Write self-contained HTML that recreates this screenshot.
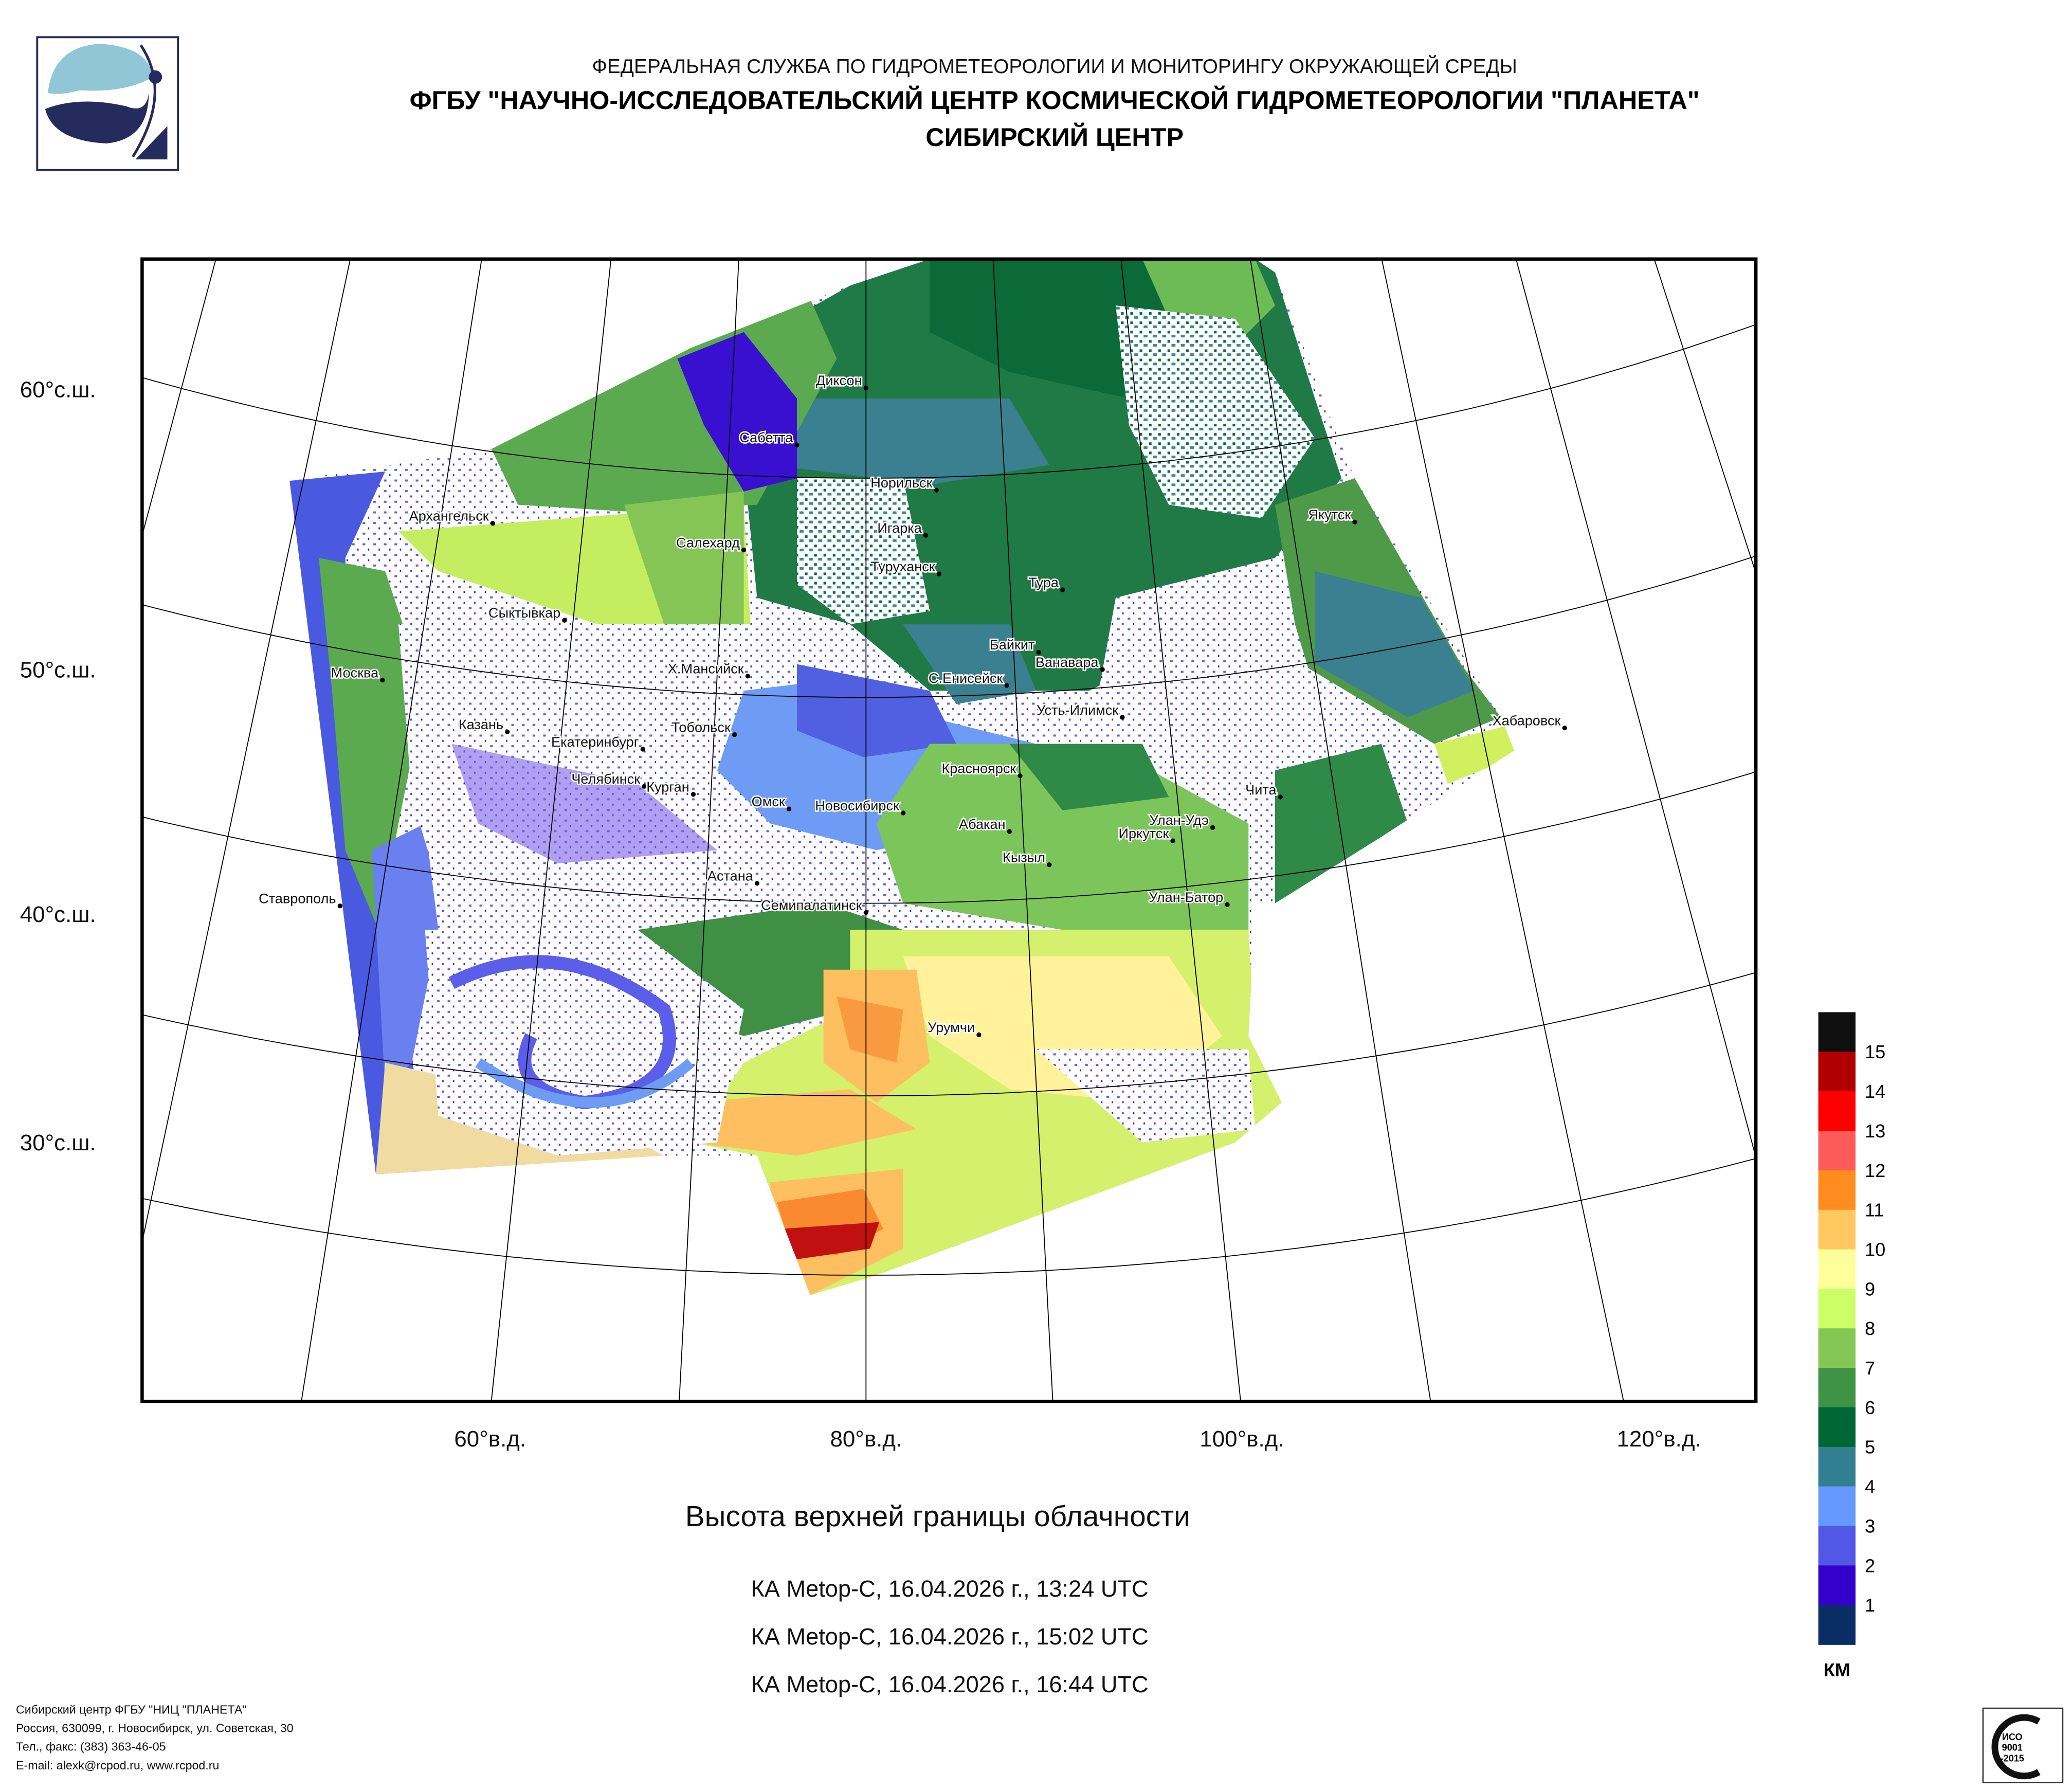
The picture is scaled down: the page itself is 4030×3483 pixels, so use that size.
<!DOCTYPE html>
<html><head><meta charset="utf-8">
<style>
html,body{margin:0;padding:0;background:#fff;width:4030px;height:3483px;overflow:hidden;}
svg{display:block;position:absolute;left:0;top:0;}
text{font-family:"Liberation Sans","DejaVu Sans",sans-serif;}
</style></head>
<body>
<svg id="root" width="4030" height="3483" viewBox="0 0 1560 1348.3" preserveAspectRatio="none" xmlns="http://www.w3.org/2000/svg">
<defs>
  <clipPath id="frameClip"><rect x="107" y="195" width="1215" height="860"/></clipPath>
  <clipPath id="swathClip"><path d="M218,362 L370,338 L520,262 L640,215 L700,195 L945,195 L960,205 L1000,310 L1020,360 L1130,540 L1140,565 L1040,630 L960,680 L945,680 L940,780 L965,830 L930,860 L660,960 L610,975 L570,870 L500,870 L283,884 Z"/></clipPath>
  <pattern id="speckBlue" width="8" height="8" patternUnits="userSpaceOnUse">
    <rect width="8" height="8" fill="#ffffff"/><rect x="1" y="1" width="2" height="1.5" fill="#5a5ee8"/><rect x="5" y="5" width="1" height="1.5" fill="#3a10d0"/>
  </pattern>
  <pattern id="speckGreen" width="7" height="7" patternUnits="userSpaceOnUse">
    <rect width="7" height="7" fill="#ffffff"/><rect x="0" y="0" width="3" height="2" fill="#3a8a8f"/><rect x="4" y="4" width="2" height="2" fill="#0a6a38"/>
  </pattern>
</defs>

<!-- Header -->
<g>
  <rect x="28" y="28" width="106" height="100" fill="#fff" stroke="#262b5e" stroke-width="1.5"/>
  <path d="M36,70 Q40,35 75,33 Q112,35 115,58 Q95,70 60,68 Q45,72 36,70 Z" fill="#90c6d6"/>
  <path d="M34,82 Q60,72 95,80 Q110,86 112,70 Q112,105 80,108 Q40,106 34,82 Z" fill="#262b5e"/>
  <path d="M106,34 Q130,70 100,118" stroke="#262b5e" stroke-width="2" fill="none"/>
  <circle cx="117" cy="58" r="5" fill="#262b5e"/>
  <path d="M126,95 L126,120 L102,120 Z" fill="#262b5e"/>
</g>
<text x="794" y="55" text-anchor="middle" font-size="15" fill="#111">ФЕДЕРАЛЬНАЯ СЛУЖБА ПО ГИДРОМЕТЕОРОЛОГИИ И МОНИТОРИНГУ ОКРУЖАЮЩЕЙ СРЕДЫ</text>
<text x="794" y="82" text-anchor="middle" font-size="19.5" font-weight="bold" fill="#000">ФГБУ "НАУЧНО-ИССЛЕДОВАТЕЛЬСКИЙ ЦЕНТР КОСМИЧЕСКОЙ ГИДРОМЕТЕОРОЛОГИИ "ПЛАНЕТА"</text>
<text x="794" y="110" text-anchor="middle" font-size="19.5" font-weight="bold" fill="#000">СИБИРСКИЙ ЦЕНТР</text>

<!-- Map -->
<g clip-path="url(#frameClip)">
  <rect x="107" y="195" width="1215" height="860" fill="#fff"/>
  <g clip-path="url(#swathClip)">
    <rect x="200" y="190" width="960" height="800" fill="url(#speckBlue)"/>
    <path d="M560,260 L640,215 L700,195 L945,195 L960,205 L990,300 L1010,360 L960,420 L900,480 L820,520 L700,520 L640,470 L570,450 L560,350 Z" fill="#1f7a45"/>
    <path d="M700,195 L860,195 L900,260 L850,300 L760,280 L700,250 Z" fill="#0b6a38"/>
    <path d="M860,195 L945,195 L960,230 L930,260 L880,240 Z" fill="#6cbb55"/>
    <path d="M570,300 L760,300 L790,350 L700,365 L580,350 Z" fill="#3a8090"/>
    <path d="M600,360 L680,360 L700,460 L640,470 L600,440 Z" fill="url(#speckGreen)"/>
    <path d="M840,230 L930,240 L990,330 L950,390 L880,380 L850,320 Z" fill="url(#speckGreen)"/>
    <path d="M960,380 L1020,360 L1100,500 L1130,540 L1080,560 L980,500 Z" fill="#4e9a48"/>
    <path d="M990,430 L1070,450 L1110,520 L1060,540 L990,500 Z" fill="#3a8090"/>
    <path d="M840,450 L960,420 L990,520 L1050,560 L960,640 L880,650 L820,560 Z" fill="url(#speckBlue)"/>
    <path d="M960,580 L1040,560 L1060,620 L960,680 Z" fill="#2f8a48"/>
    <path d="M1080,560 L1140,545 L1140,570 L1090,590 Z" fill="#d0f060"/>
    <path d="M370,338 L520,262 L610,225 L630,270 L570,380 L470,385 L390,380 Z" fill="#5caa50"/>
    <path d="M510,270 L560,250 L600,300 L600,360 L560,370 L530,320 Z" fill="#3a10d0"/>
    <path d="M300,400 L560,380 L565,470 L450,470 L330,430 Z" fill="#c4ee60"/>
    <path d="M470,380 L560,370 L560,470 L500,470 Z" fill="#85c555"/>
    <path d="M218,362 L290,355 L260,420 L265,600 L300,700 L320,884 L283,884 Z" fill="#4a5ae0"/>
    <path d="M240,420 L290,430 L320,520 L300,620 L285,700 L260,640 L250,520 Z" fill="#5caa50"/>
    <path d="M280,640 L320,620 L330,700 L310,800 L290,820 Z" fill="#6a80f0"/>
    <path d="M290,800 L420,830 L500,870 L283,884 Z" fill="#f0dca0"/>
    <path d="M300,470 L500,470 L560,560 L500,700 L340,700 L310,600 Z" fill="url(#speckBlue)"/>
    <path d="M340,560 L480,590 L540,640 L420,650 L360,620 Z" fill="#7a60e8" opacity="0.6"/>
    <path d="M560,520 L640,510 L700,540 L780,560 L760,620 L660,640 L580,620 L540,580 Z" fill="#6e9cf5"/>
    <path d="M600,500 L700,520 L720,560 L650,570 L600,550 Z" fill="#5060e0"/>
    <path d="M680,470 L760,470 L780,520 L720,530 Z" fill="#3a8090"/>
    <path d="M700,560 L830,560 L940,620 L940,700 L800,700 L680,680 L660,620 Z" fill="#7cc55a"/>
    <path d="M760,560 L860,560 L880,600 L800,610 Z" fill="#2f8a48"/>
    <path d="M480,700 L620,680 L680,700 L640,760 L560,780 L500,760 Z" fill="#3f8f45"/>
    <path d="M640,700 L940,700 L945,780 L965,830 L930,860 L660,960 L610,975 L570,870 L520,860 L560,800 L640,760 Z" fill="#d4f06c"/>
    <path d="M680,720 L880,720 L920,780 L860,830 L760,820 L700,780 Z" fill="#fff29a"/>
    <path d="M620,730 L690,730 L700,800 L660,830 L620,800 Z" fill="#fdbf5f"/>
    <path d="M630,750 L680,760 L675,800 L640,790 Z" fill="#fa9a40"/>
    <path d="M520,830 L640,820 L690,850 L600,870 L520,860 Z" fill="#fdbf5f"/>
    <path d="M580,890 L680,880 L680,940 L610,975 L580,930 Z" fill="#fdbf5f"/>
    <path d="M585,905 L650,895 L665,925 L630,945 L595,940 Z" fill="#fa8a30"/>
    <path d="M590,925 L662,920 L655,940 L600,948 Z" fill="#c01010"/>
    <path d="M780,790 L940,790 L945,850 L860,860 Z" fill="url(#speckBlue)"/>
    <path d="M320,700 L480,700 L560,760 L540,860 L420,870 L330,840 Z" fill="url(#speckBlue)"/>
    <path d="M340,740 Q420,700 500,760 Q520,820 440,830 Q380,820 400,780" stroke="#5a5ee8" stroke-width="10" fill="none"/>
    <path d="M360,800 Q450,860 520,800" stroke="#6e9cf5" stroke-width="8" fill="none"/>
  </g>
  <g id="graticule" stroke="#000" stroke-width="0.7" fill="none"></g>
  <g id="cities"></g>
</g>
<rect x="107" y="195" width="1215" height="860" fill="none" stroke="#000" stroke-width="2.5"/>

<g font-size="17" fill="#111">
  <text x="15" y="299">60°с.ш.</text>
  <text x="15" y="510">50°с.ш.</text>
  <text x="15" y="694">40°с.ш.</text>
  <text x="15" y="866">30°с.ш.</text>
</g>
<g font-size="17" fill="#111" text-anchor="middle">
  <text x="369" y="1089">60°в.д.</text>
  <text x="652" y="1089">80°в.д.</text>
  <text x="935" y="1089">100°в.д.</text>
  <text x="1249" y="1089">120°в.д.</text>
</g>

<g id="legend"></g>
<text x="1383" y="1262" text-anchor="middle" font-size="14" font-weight="bold" fill="#000">КМ</text>

<text x="706" y="1149" text-anchor="middle" font-size="22" fill="#111">Высота верхней границы облачности</text>
<g font-size="17.5" fill="#111" text-anchor="middle">
  <text x="715" y="1202">КА Metop-C, 16.04.2026 г., 13:24 UTC</text>
  <text x="715" y="1238">КА Metop-C, 16.04.2026 г., 15:02 UTC</text>
  <text x="715" y="1274">КА Metop-C, 16.04.2026 г., 16:44 UTC</text>
</g>
<g font-size="9" fill="#111">
  <text x="12" y="1290">Сибирский центр ФГБУ "НИЦ "ПЛАНЕТА"</text>
  <text x="12" y="1304">Россия, 630099, г. Новосибирск, ул. Советская, 30</text>
  <text x="12" y="1318">Тел., факс: (383) 363-46-05</text>
  <text x="12" y="1332">E-mail: alexk@rcpod.ru, www.rcpod.ru</text>
</g>
<g>
  <rect x="1493" y="1286" width="60" height="56" fill="#fff" stroke="#333" stroke-width="1"/>
  <path d="M1535,1296 A22,22 0 1 0 1535,1334" stroke="#111" stroke-width="5" fill="none"/>
  <text x="1515" y="1310" font-size="7" font-weight="bold" text-anchor="middle">ИСО</text>
  <text x="1515" y="1318" font-size="7" font-weight="bold" text-anchor="middle">9001</text>
  <text x="1515" y="1326" font-size="7" font-weight="bold" text-anchor="middle">-2015</text>
</g>

<script>
const legendLabels = ["15","14","13","12","11","10","9","8","7","6","5","4","3","2","1"];
const legendColors = ["#0f0f0f","#b00000","#ff0000","#ff5a5a","#ff8c1e","#ffc860","#ffff99","#ccff66","#85c755","#3e9444","#006633","#317f90","#6699ff","#5257e6","#3300cc","#0a2d66"];
const parallels = [20,30,40,50,60,70,80];
const meridians = [20,30,40,50,60,70,80,90,100,110,120,130,140];
const cityNames = ["Диксон","Сабетта","Норильск","Игарка","Туруханск","Тура","Якутск","Архангельск","Салехард","Сыктывкар","Байкит","Ванавара","Х.Мансийск","С.Енисейск","Москва","Усть-Илимск","Хабаровск","Казань","Тобольск","Екатеринбург","Красноярск","Челябинск","Курган","Чита","Омск","Новосибирск","Абакан","Улан-Удэ","Иркутск","Кызыл","Астана","Ставрополь","Улан-Батор","Семипалатинск","Урумчи"];
const cityX = [652,600,705,697,707,800,1020,371,560,425,782,830,563,758,288,845,1178,382,553,484,768,485,522,964,594,680,760,913,883,790,570,256,924,652,737];
const cityY = [292,335,369,403,432,444,393,394,414,467,491,504,509,516,512,540,548,551,553,564,584,592,598,600,609,612,626,623,633,651,665,682,681,687,779];

const NS="http://www.w3.org/2000/svg";
const PX=652, PY=-1638, K=0.299*Math.PI/180;
function latRadius(lat){ return 1998 + (60-lat)*17.0 - (60-lat)*(60-lat)*0.05; }
function proj(lon,lat){ const r=latRadius(lat), a=(lon-80)*K; return [PX+r*Math.sin(a), PY+r*Math.cos(a)]; }

const grat=document.getElementById('graticule');
parallels.forEach(lat=>{
  const p=document.createElementNS(NS,'path');
  let d=''; for(let lon=-20;lon<=180;lon+=2){const [x,y]=proj(lon,lat); d+=(d?'L':'M')+x.toFixed(1)+','+y.toFixed(1);}
  p.setAttribute('d',d);
  
  
  grat.appendChild(p);
});
meridians.forEach(lon=>{
  const p=document.createElementNS(NS,'path');
  const a=(lon-80)*K;
  p.setAttribute('d','M'+PX+','+PY+' L'+(PX+4000*Math.sin(a)).toFixed(1)+','+(PY+4000*Math.cos(a)).toFixed(1));
  
  
  grat.appendChild(p);
});

const cities=document.getElementById('cities');
cityNames.forEach((n,i)=>{
  const c=document.createElementNS(NS,'circle');
  c.setAttribute('cx',cityX[i]); c.setAttribute('cy',cityY[i]); c.setAttribute('r',1.8); c.setAttribute('fill','#000');
  
  
  cities.appendChild(c);
  const t=document.createElementNS(NS,'text');
  t.setAttribute('x',cityX[i]-3); t.setAttribute('y',cityY[i]-2);
  t.setAttribute('text-anchor','end'); t.setAttribute('font-size','10.5'); t.setAttribute('fill','#111');
  t.setAttribute('stroke','#fff'); t.setAttribute('stroke-width','2'); t.setAttribute('paint-order','stroke');
  t.textContent=n;
  
  
  cities.appendChild(t);
});

const leg=document.getElementById('legend');
const LX=1369, LY=762, LW=28, LH=(1238-762)/legendColors.length;
legendColors.forEach((col,i)=>{
  const r=document.createElementNS(NS,'rect');
  r.setAttribute('x',LX); r.setAttribute('y',LY+i*LH); r.setAttribute('width',LW); r.setAttribute('height',LH+0.3); r.setAttribute('fill',col);
  
  
  leg.appendChild(r);
});
legendLabels.forEach((lab,i)=>{
  const t=document.createElementNS(NS,'text');
  t.setAttribute('x',LX+35); t.setAttribute('y',LY+(i+1)*LH+5);
  t.setAttribute('font-size','14'); t.setAttribute('fill','#000');
  t.textContent=lab;
  
  
  leg.appendChild(t);
});
</script>
</svg>
</body></html>
